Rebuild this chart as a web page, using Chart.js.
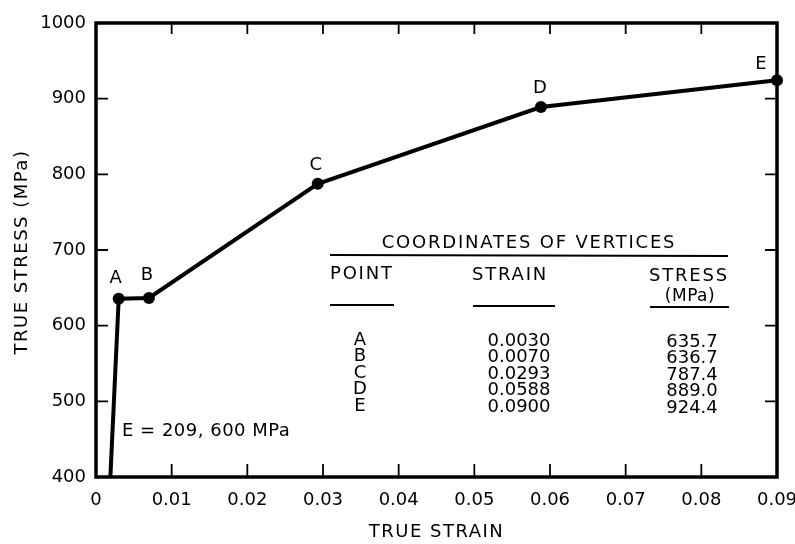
<!DOCTYPE html>
<html>
<head>
<meta charset="utf-8">
<script src="https://cdn.jsdelivr.net/npm/chart.js@4.4.0/dist/chart.umd.min.js"></script>
<style>
  html, body { margin: 0; padding: 0; background: #fff; }
  #wrap { width: 795px; height: 544px; }
</style>
</head>
<body>
<div id="wrap"><canvas id="chart" width="795" height="544"></canvas></div>
<script>
// true strain / true stress of the piecewise curve
const strain = [0.0019, 0.0030, 0.0070, 0.0293, 0.0588, 0.0900];
const stress = [400, 635.7, 636.7, 787.4, 889.0, 924.4];
const pointNames = ['', 'A', 'B', 'C', 'D', 'E'];

// table text
const tablePoints = ['A', 'B', 'C', 'D', 'E'];
const tableStrain = ['0.0030', '0.0070', '0.0293', '0.0588', '0.0900'];
const tableStress = ['635.7', '636.7', '787.4', '889.0', '924.4'];

const xTicks = [0, 0.01, 0.02, 0.03, 0.04, 0.05, 0.06, 0.07, 0.08, 0.09];
const yTicks = [400, 500, 600, 700, 800, 900, 1000];

const FONT = '"DejaVu Sans", "Liberation Sans", Arial, sans-serif';

// offsets of the letter above each vertex
const labelOffsets = [null, [-3, -20], [-2, -23], [-2, -19], [-1, -19], [-16, -16]];

const framePlugin = {
    id: 'frame',
    afterDraw(chart) {
        const ctx = chart.ctx;
        const a = chart.chartArea;
        const xs = chart.scales.x;
        const ys = chart.scales.y;
        ctx.save();
        ctx.strokeStyle = '#000';
        ctx.lineWidth = 3.5;
        ctx.strokeRect(a.left, a.top, a.right - a.left, a.bottom - a.top);

        // inward ticks on all four sides
        ctx.lineWidth = 1.8;
        ctx.beginPath();
        xTicks.slice(1, -1).forEach(v => {
            const px = xs.getPixelForValue(v);
            ctx.moveTo(px, a.bottom); ctx.lineTo(px, a.bottom - 13);
            ctx.moveTo(px, a.top); ctx.lineTo(px, a.top + 11);
        });
        yTicks.slice(1, -1).forEach(v => {
            const py = ys.getPixelForValue(v);
            ctx.moveTo(a.left, py); ctx.lineTo(a.left + 12, py);
            ctx.moveTo(a.right, py); ctx.lineTo(a.right - 12, py);
        });
        ctx.stroke();

        // vertex letters
        ctx.fillStyle = '#000';
        ctx.font = '18px ' + FONT;
        ctx.textAlign = 'center';
        ctx.textBaseline = 'middle';
        const meta = chart.getDatasetMeta(0);
        meta.data.forEach((pt, i) => {
            if (!pointNames[i]) return;
            const off = labelOffsets[i];
            ctx.fillText(pointNames[i], pt.x + off[0], pt.y + off[1]);
        });

        // modulus note
        ctx.textAlign = 'left';
        ctx.letterSpacing = '0.5px';
        ctx.fillText('E = 209, 600 MPa', 122, 431);

        // axis titles
        ctx.font = '18px ' + FONT;
        ctx.letterSpacing = '1.5px';
        ctx.textAlign = 'center';
        ctx.fillText('TRUE STRAIN', (a.left + a.right) / 2, 532);
        ctx.save();
        ctx.translate(22, (a.top + a.bottom) / 2 + 2);
        ctx.rotate(-Math.PI / 2);
        ctx.fillText('TRUE STRESS (MPa)', 0, 0);
        ctx.restore();

        // coordinates table
        ctx.font = '18px ' + FONT;
        ctx.letterSpacing = '1.8px';
        ctx.textAlign = 'center';
        ctx.fillText('COORDINATES OF VERTICES', 529, 243);
        ctx.textAlign = 'left';
        ctx.fillText('POINT', 330, 274);
        ctx.fillText('STRAIN', 472, 275);
        ctx.fillText('STRESS', 649, 276);
        ctx.font = '17px ' + FONT;
        ctx.letterSpacing = '0.5px';
        ctx.textAlign = 'center';
        ctx.fillText('(MPa)', 690, 297);

        ctx.lineWidth = 1.8;
        ctx.beginPath();
        ctx.moveTo(330, 255); ctx.lineTo(728, 256);
        ctx.moveTo(330, 305); ctx.lineTo(394, 305);
        ctx.moveTo(473, 306); ctx.lineTo(555, 306);
        ctx.moveTo(650, 307); ctx.lineTo(729, 307);
        ctx.stroke();

        ctx.font = '18px ' + FONT;
        ctx.letterSpacing = '0px';
        tablePoints.forEach((p, i) => {
            const y = 340 + i * 16.5;
            ctx.fillText(p, 360, y);
            ctx.fillText(tableStrain[i], 519, y + 1);
            ctx.fillText(tableStress[i], 692, y + 2);
        });
        ctx.restore();
    }
};

new Chart(document.getElementById('chart'), {
    type: 'scatter',
    data: {
        datasets: [{
            data: strain.map((s, i) => ({ x: s, y: stress[i] })),
            showLine: true,
            borderColor: '#000',
            borderWidth: 4,
            backgroundColor: '#000',
            pointRadius: pointNames.map(n => n ? 6 : 0),
            pointBackgroundColor: '#000',
            pointBorderWidth: 0,
            clip: false
        }]
    },
    options: {
        responsive: false,
        animation: false,
        layout: { padding: { left: 0, top: 23, right: 18, bottom: 0 } },
        plugins: { legend: { display: false }, tooltip: { enabled: false } },
        scales: {
            x: {
                type: 'linear',
                min: 0,
                max: 0.09,
                afterBuildTicks: s => { s.ticks = xTicks.map(v => ({ value: v })); },
                afterFit: s => { s.height = 67; s.paddingLeft = 0; s.paddingRight = 0; },
                ticks: {
                    padding: 13,
                    color: '#000',
                    font: { family: FONT, size: 18 },
                    maxRotation: 0,
                    autoSkip: false,
                    callback: v => v === 0 ? '0' : v.toFixed(2)
                },
                grid: { display: false, drawTicks: false },
                border: { display: false }
            },
            y: {
                type: 'linear',
                min: 400,
                max: 1000,
                afterBuildTicks: s => { s.ticks = yTicks.map(v => ({ value: v })); },
                afterFit: s => { s.width = 96; },
                ticks: {
                    padding: 10,
                    color: '#000',
                    font: { family: FONT, size: 18 },
                    autoSkip: false,
                    callback: v => String(v)
                },
                grid: { display: false, drawTicks: false },
                border: { display: false }
            }
        }
    },
    plugins: [framePlugin]
});
</script>
</body>
</html>
